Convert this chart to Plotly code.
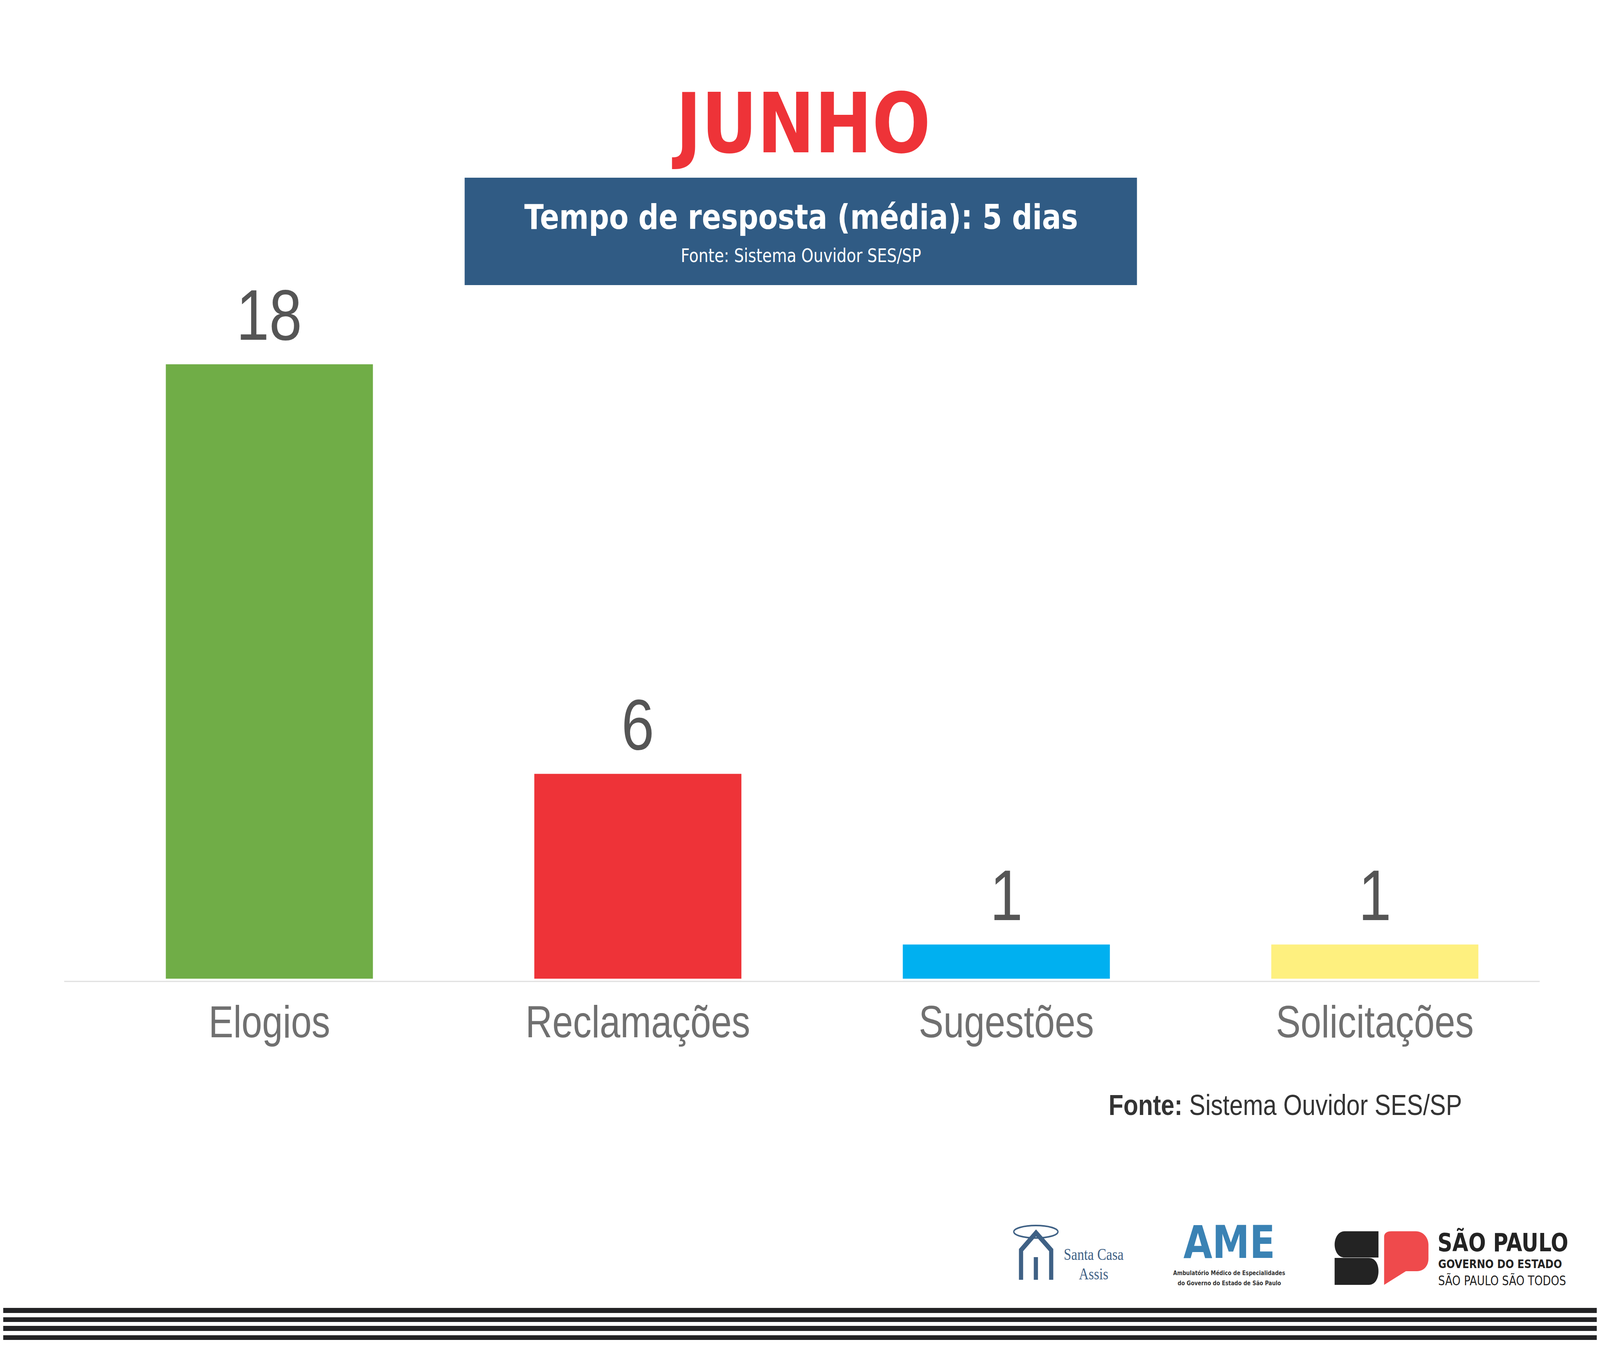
import plotly.graph_objects as go

W, H = 4962, 3508

# ---------------- data ----------------
categories = ["Elogios", "Reclamações", "Sugestões", "Solicitações"]
values = [18, 6, 1, 1]
bar_colors = ["#70AD47", "#EE3338", "#00B0F0", "#FEF07F"]

month_title = "JUNHO"
response_text = "Tempo de resposta (média): 5 dias"
box_source_text = "Fonte: Sistema Ouvidor SES/SP"
footer_source_bold = "Fonte:"
footer_source_rest = " Sistema Ouvidor SES/SP"


# ---------------- helpers (layout only) ----------------
def px(x):
    return x / W


def py(y):
    return 1 - y / H


def pt(x, y):
    return f"{px(x):.6f},{py(y):.6f}"


def z10(zx, zy):
    # coordinates
    return pt(4120 + zx / 2.0, 3120 + zy / 3.0)


fig = go.Figure(
    go.Bar(
        x=categories,
        y=values,
        marker=dict(color=bar_colors, line=dict(width=0)),
        width=0.562,
        hoverinfo="skip",
    )
)

shapes = []
annotations = []

# value labels above the bars (positioned through the axes)
for cat, val in zip(categories, values):
    annotations.append(dict(text=str(val), x=cat, y=val, xref="x", yref="y",
                            xanchor="center", yanchor="bottom", yshift=22,
                            showarrow=False,
                            font=dict(family="Liberation Sans, Arial, sans-serif", size=183, color="#555555")))

# baseline of the chart
shapes.append(dict(type="line", xref="paper", yref="paper",
                   x0=px(199), x1=px(4775), y0=py(2513), y1=py(2513),
                   line=dict(color="#E0E0E0", width=3)))

# blue header box
shapes.append(dict(type="rect", xref="paper", yref="paper",
                   x0=px(1441), x1=px(3526), y0=py(730), y1=py(455),
                   fillcolor="#305B84", line=dict(width=0), layer="below"))

# title
annotations.append(dict(text=f"<b>{month_title}</b>", xref="paper", yref="paper",
                        x=px(2485), y=py(316), xanchor="center", yanchor="middle",
                        showarrow=False,
                        font=dict(family="DejaVu Sans, Verdana, sans-serif", size=213, color="#EE3338")))
annotations.append(dict(text=f"<b>{response_text}</b>", xref="paper", yref="paper",
                        x=px(2484), y=py(556), xanchor="center", yanchor="middle",
                        showarrow=False,
                        font=dict(family="DejaVu Sans, Verdana, sans-serif", size=88, color="#FFFFFF")))
annotations.append(dict(text=box_source_text, xref="paper", yref="paper",
                        x=px(2484), y=py(654), xanchor="center", yanchor="middle",
                        showarrow=False,
                        font=dict(family="DejaVu Sans, Verdana, sans-serif", size=48, color="#FFFFFF")))

# footer source
annotations.append(dict(text=f"<b>{footer_source_bold}</b>{footer_source_rest}", xref="paper", yref="paper",
                        x=px(4536), y=py(2829), xanchor="right", yanchor="middle",
                        showarrow=False,
                        font=dict(family="Liberation Sans, Arial, sans-serif", size=75, color="#333333")))

# ---------------- Santa Casa Assis logo ----------------
sc_col = "#3F6185"
shapes.append(dict(type="circle", xref="paper", yref="paper",
                   x0=px(3144), x1=px(3281), y0=py(3170), y1=py(3138),
                   line=dict(color=sc_col, width=4)))
shapes.append(dict(type="path", xref="paper", yref="paper",
                   path=f"M {pt(3166.5, 3277)} L {pt(3166.5, 3201)} L {pt(3213, 3157)} "
                        f"L {pt(3260, 3201)} L {pt(3260, 3277)}",
                   line=dict(color=sc_col, width=13)))
shapes.append(dict(type="rect", xref="paper", yref="paper",
                   x0=px(3206), x1=px(3219), y0=py(3277), y1=py(3219),
                   fillcolor=sc_col, line=dict(width=0)))
annotations.append(dict(text="Santa Casa", xref="paper", yref="paper",
                        x=px(3392), y=py(3212), xanchor="center", yanchor="middle",
                        showarrow=False,
                        font=dict(family="Liberation Serif, Times New Roman, serif", size=42, color=sc_col)))
annotations.append(dict(text="Assis", xref="paper", yref="paper",
                        x=px(3391), y=py(3262), xanchor="center", yanchor="middle",
                        showarrow=False,
                        font=dict(family="Liberation Serif, Times New Roman, serif", size=42, color=sc_col)))

# ---------------- AME logo ----------------
annotations.append(dict(text="<b>AME</b>", xref="paper", yref="paper",
                        x=px(3812), y=py(3180), xanchor="center", yanchor="middle",
                        showarrow=False,
                        font=dict(family="DejaVu Sans, Verdana, sans-serif", size=116, color="#3A82B4")))
annotations.append(dict(text="<b>Ambulatório Médico de Especialidades</b>", xref="paper", yref="paper",
                        x=px(3812), y=py(3259), xanchor="center", yanchor="middle",
                        showarrow=False,
                        font=dict(family="DejaVu Sans, Verdana, sans-serif", size=16, color="#333333")))
annotations.append(dict(text="<b>do Governo do Estado de São Paulo</b>", xref="paper", yref="paper",
                        x=px(3812), y=py(3285), xanchor="center", yanchor="middle",
                        showarrow=False,
                        font=dict(family="DejaVu Sans, Verdana, sans-serif", size=16, color="#333333")))

# ---------------- São Paulo governo logo ----------------
blk = "#232323"
redp = "#EF4A4C"
shapes.append(dict(type="path", xref="paper", yref="paper",
                   path=f"M {z10(310, 98)} L {z10(100, 98)} C {z10(60, 98)} {z10(38, 150)} {z10(38, 200)} "
                        f"C {z10(38, 250)} {z10(60, 300)} {z10(100, 300)} L {z10(310, 300)} Z",
                   fillcolor=blk, line=dict(width=0)))
shapes.append(dict(type="path", xref="paper", yref="paper",
                   path=f"M {z10(38, 303)} L {z10(250, 303)} C {z10(290, 303)} {z10(310, 350)} {z10(310, 405)} "
                        f"C {z10(310, 460)} {z10(290, 510)} {z10(250, 510)} L {z10(38, 510)} Z",
                   fillcolor=blk, line=dict(width=0)))
shapes.append(dict(type="path", xref="paper", yref="paper",
                   path=f"M {z10(345, 510)} L {z10(345, 140)} C {z10(345, 115)} {z10(360, 98)} {z10(390, 98)} "
                        f"L {z10(540, 98)} C {z10(590, 98)} {z10(620, 150)} {z10(620, 200)} "
                        f"L {z10(620, 310)} C {z10(620, 365)} {z10(590, 405)} {z10(550, 405)} "
                        f"L {z10(480, 405)} Z",
                   fillcolor=redp, line=dict(width=0)))
annotations.append(dict(text="<b>SÃO PAULO</b>", xref="paper", yref="paper",
                        x=px(4456), y=py(3181), xanchor="left", yanchor="middle",
                        showarrow=False,
                        font=dict(family="DejaVu Sans, Verdana, sans-serif", size=64, color=blk)))
annotations.append(dict(text="<b>GOVERNO DO ESTADO</b>", xref="paper", yref="paper",
                        x=px(4458), y=py(3236), xanchor="left", yanchor="middle",
                        showarrow=False,
                        font=dict(family="DejaVu Sans, Verdana, sans-serif", size=31, color=blk)))
annotations.append(dict(text="SÃO PAULO SÃO TODOS", xref="paper", yref="paper",
                        x=px(4458), y=py(3279), xanchor="left", yanchor="middle",
                        showarrow=False,
                        font=dict(family="DejaVu Sans, Verdana, sans-serif", size=33, color=blk)))

# ---------------- bottom stripes ----------------
for y0, y1 in [(3349, 3362), (3373, 3385), (3395, 3408), (3419, 3431)]:
    shapes.append(dict(type="rect", xref="paper", yref="paper",
                       x0=px(10), x1=px(4952), y0=py(y1), y1=py(y0),
                       fillcolor="#232325", line=dict(width=0)))

fig.update_layout(
    width=W,
    height=H,
    margin=dict(l=0, r=0, t=0, b=0),
    paper_bgcolor="#FFFFFF",
    plot_bgcolor="rgba(0,0,0,0)",
    showlegend=False,
    xaxis=dict(
        domain=[px(264), px(4835)],
        showgrid=False,
        zeroline=False,
        showline=False,
        ticks="",
        ticklabelstandoff=34,
        tickfont=dict(family="Liberation Sans, Arial, sans-serif", size=115, color="#707070"),
        fixedrange=True,
    ),
    yaxis=dict(
        domain=[py(2506), py(758)],
        range=[0, 20],
        visible=False,
        fixedrange=True,
    ),
    shapes=shapes,
    annotations=annotations,
)

# fit the fixed 4962x3508 figure exactly onto the browser's viewport
fit_script = """
document.documentElement.style.margin='0';
document.body.style.margin='0';
document.documentElement.style.overflow='hidden';
document.body.style.overflow='hidden';
var gd = document.getElementById('{plot_id}');
var sx = window.innerWidth / FIGW, sy = window.innerHeight / FIGH;
gd.style.transformOrigin = '0 0';
gd.style.transform = 'scale(' + sx + ',' + sy + ')';
""".replace("FIGW", str(W)).replace("FIGH", str(H))

fig.write_html("out.html", post_script=fit_script, config={"displayModeBar": False})
